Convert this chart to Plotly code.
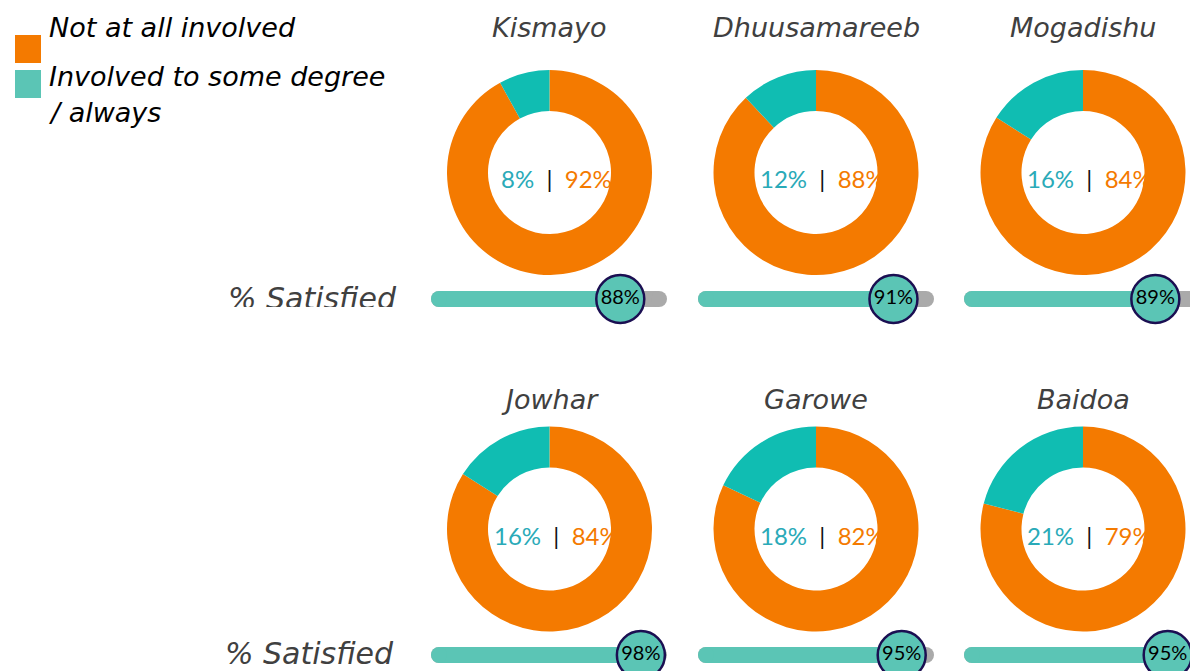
import plotly.graph_objects as go

# ---------------- data ----------------
cities = ["Kismayo", "Dhuusamareeb", "Mogadishu", "Jowhar", "Garowe", "Baidoa"]
not_involved = [92, 88, 84, 84, 82, 79]      # % Not at all involved
involved = [8, 12, 16, 16, 18, 21]           # % Involved to some degree / always
satisfied = [88, 91, 89, 98, 95, 95]         # % Satisfied
legend_labels = ["Not at all involved", "Involved to some degree", "/ always"]
bar_label = "% Satisfied"

# ---------------- style / layout ----------------
W, H = 1190, 671
ORANGE = "#f47a00"
TEAL_D = "#10bdb2"
TEAL = "#5bc5b5"
TEAL_TXT = "#2aaab8"
GRAY = "#aaaaaa"
NAVY = "#1b0f52"
TITLE_C = "#404040"
HAND = "DejaVu Sans"
SANS = "Lato"

col_cx = [549.5, 816, 1083]
row_cy = [172.5, 529]
R = 102.5
title_y = [27, 399]
bar_cap_left = [439, 706, 972]
bar_cy = [299, 655]
K = 206.0           # pixels per 100 %
TRACK_END = 1.068
LO = -0.05
HALF = 25.0         # half-height (px) of bar band


def fx(p):
    return p / W


def fy(p):
    return 1 - p / H


fig = go.Figure()
annotations = []
shapes = []
layout_axes = {}

for i, city in enumerate(cities):
    r, c = divmod(i, 3)
    cx, cy = col_cx[c], row_cy[r]
    fig.add_trace(go.Pie(
        values=[not_involved[i], involved[i]],
        labels=["Not at all involved", "Involved to some degree / always"],
        marker=dict(colors=[ORANGE, TEAL_D], line=dict(width=0)),
        hole=0.6, sort=False, direction="clockwise", rotation=0,
        textinfo="none", hoverinfo="label+percent", showlegend=False,
        domain=dict(x=[fx(cx - R), fx(cx + R)], y=[fy(cy + R), fy(cy - R)]),
    ))
    annotations.append(dict(
        x=fx(cx), y=fy(title_y[r]), xref="paper", yref="paper",
        text=city, showarrow=False, xanchor="center", yanchor="middle",
        font=dict(family=HAND, size=27, color=TITLE_C, style="italic"),
    ))
    annotations.append(dict(
        x=fx(cx + 6.5), y=fy(cy + 6), xref="paper", yref="paper",
        text=(f"<span style='color:{TEAL_TXT}'>{involved[i]}%</span>"
              f"<span style='color:#111111'>  |  </span>"
              f"<span style='color:{ORANGE}'>{not_involved[i]}%</span>"),
        showarrow=False, xanchor="center", yanchor="middle",
        font=dict(family=SANS, size=24),
    ))

    # progress bar subplot
    n = i + 1
    left_px = bar_cap_left[c] + LO * K
    right_px = min(W, left_px + 1.2 * K)
    hi = LO + (right_px - left_px) / K
    top_px = bar_cy[r] - HALF
    bot_px = min(H, bar_cy[r] + HALF)
    ylo = -(bot_px - bar_cy[r]) / HALF
    xa = f"xaxis{n}" if n > 1 else "xaxis"
    ya = f"yaxis{n}" if n > 1 else "yaxis"
    layout_axes[xa] = dict(domain=[fx(left_px), fx(right_px)], range=[LO, hi],
                           visible=False, fixedrange=True)
    layout_axes[ya] = dict(domain=[fy(bot_px), fy(top_px)],
                           range=[ylo, 1], visible=False, fixedrange=True)
    xr = "x" if n == 1 else f"x{n}"
    yr = "y" if n == 1 else f"y{n}"
    v = satisfied[i] / 100
    fig.add_trace(go.Scatter(
        x=[0, TRACK_END], y=[0, 0], xaxis=xr, yaxis=yr, mode="lines+markers",
        line=dict(color=GRAY, width=16), marker=dict(color=GRAY, size=16, line=dict(width=0)),
        cliponaxis=False, showlegend=False, hoverinfo="skip"))
    fig.add_trace(go.Scatter(
        x=[0, v], y=[0, 0], xaxis=xr, yaxis=yr, mode="lines+markers",
        line=dict(color=TEAL, width=16), marker=dict(color=TEAL, size=16, line=dict(width=0)),
        cliponaxis=False, showlegend=False, hoverinfo="skip"))
    fig.add_trace(go.Scatter(
        x=[v], y=[0], xaxis=xr, yaxis=yr, mode="markers+text",
        marker=dict(color=TEAL, size=48, line=dict(color=NAVY, width=2.5)),
        text=[f"{satisfied[i]}%"], textposition="middle center",
        textfont=dict(family=SANS, size=20, color="#000000"),
        cliponaxis=False, showlegend=False, hoverinfo="text"))

# "% Satisfied" for row 1 (clipped at its bottom like the reference)
layout_axes["xaxis7"] = dict(domain=[fx(200), fx(420)], range=[0, 1], visible=False, fixedrange=True)
layout_axes["yaxis7"] = dict(domain=[fy(307), fy(250)], range=[0, 1], visible=False, fixedrange=True)
fig.add_trace(go.Scatter(
    x=[(396 - 200) / 220], y=[(307 - 301) / 57], xaxis="x7", yaxis="y7",
    mode="text", text=[bar_label], textposition="middle left",
    textfont=dict(family=HAND, size=30, color=TITLE_C, style="italic"),
    cliponaxis=True, showlegend=False, hoverinfo="skip"))
annotations.append(dict(
    x=fx(396), y=fy(bar_cy[1] - 2), xref="paper", yref="paper", text=bar_label,
    showarrow=False, xanchor="right", yanchor="middle",
    font=dict(family=HAND, size=30, color=TITLE_C, style="italic")))

# legend
shapes.append(dict(type="rect", xref="paper", yref="paper", x0=fx(15), x1=fx(41),
                   y0=fy(63), y1=fy(35), fillcolor=ORANGE, line=dict(width=0)))
shapes.append(dict(type="rect", xref="paper", yref="paper", x0=fx(15), x1=fx(41),
                   y0=fy(98), y1=fy(70), fillcolor=TEAL, line=dict(width=0)))
for lbl, yy in zip(legend_labels, [27, 76, 113]):
    annotations.append(dict(
        x=fx(47), y=fy(yy), xref="paper", yref="paper", text=lbl, showarrow=False,
        xanchor="left", yanchor="middle",
        font=dict(family=HAND, size=27, color="#000000", style="italic")))

fig.update_layout(
    width=W, height=H, margin=dict(l=0, r=0, t=0, b=0),
    paper_bgcolor="white", plot_bgcolor="rgba(0,0,0,0)",
    annotations=annotations, shapes=shapes, showlegend=False,
    **layout_axes,
)

fig.write_html(
    "out.html",
    config={"displayModeBar": False},
    post_script="document.body.style.margin='0';document.body.style.overflow='hidden';",
)
